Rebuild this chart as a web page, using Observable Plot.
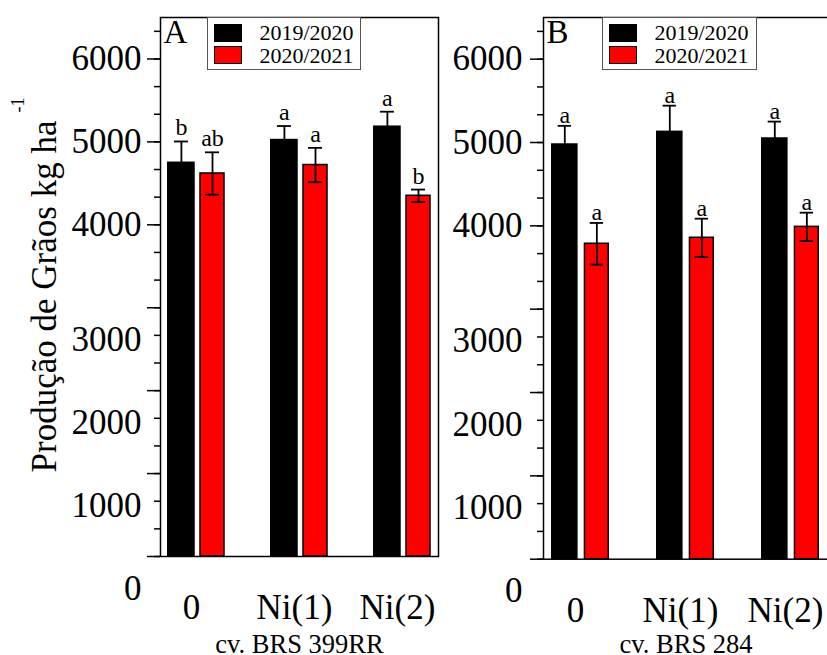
<!DOCTYPE html>
<html><head><meta charset="utf-8">
<script src="https://cdn.jsdelivr.net/npm/d3@7"></script>
<script src="https://cdn.jsdelivr.net/npm/@observablehq/plot@0.6"></script>
<style>
body{margin:0;background:#fff;}
#wrap{position:relative;width:827px;height:655px;overflow:hidden;font-family:"Liberation Serif","Times New Roman",serif;background:#fff;}
.panel{position:absolute;top:0;}
.legend{position:absolute;border:1px solid #555;background:#fff;box-sizing:border-box;padding-top:4px;}
.legend .row{display:flex;align-items:center;height:22.5px;}
.legend .sw{width:26px;height:16px;border:1px solid #000;margin-left:6px;flex:none;}
.legend .lab{margin-left:18px;font-size:22px;line-height:19px;color:#000;white-space:nowrap;}
#ytitle{position:absolute;left:0;top:0;pointer-events:none;}
</style></head>
<body>
<div id="wrap"></div>
<script>
// ---- data ----
const groups = ["0", "Ni(1)", "Ni(2)"];
const seasons = ["2019/2020", "2020/2021"];
const seasonColors = ["#000000", "#ff0000"];

const a2019 = [4748, 5022, 5183];
const a2019Err = [257, 169, 181];
const a2019Letters = ["b", "a", "a"];
const a2020 = [4619, 4721, 4350];
const a2020Err = [255, 207, 75];
const a2020Letters = ["ab", "a", "b"];

const b2019 = [4976, 5128, 5048];
const b2019Err = [224, 314, 203];
const b2019Letters = ["a", "a", "a"];
const b2020 = [3785, 3857, 3988];
const b2020Err = [250, 229, 170];
const b2020Letters = ["a", "a", "a"];

const upperTickLabels = [6000, 5000, 4000];
const lowerTickLabels = [3000, 2000, 1000, 0];
const majorTicks = [0, 1000, 2000, 3000, 4000, 5000, 6000];
const minorStep = 1000 / 3;

const yTitle = "Produção de Grãos kg ha";
const yTitleSup = "-1";

const wrap = document.getElementById("wrap");
const minorTicks = d3.range(0, 6400, minorStep);
const serif = "Liberation Serif, Times New Roman, serif";

function rowsOf(vals, errs, letters) {
  return groups.map((g, i) => ({group: g, value: vals[i], err: errs[i], letter: letters[i]}));
}

function panel(o) {
  const r19 = rowsOf(o.v19, o.e19, o.l19);
  const r20 = rowsOf(o.v20, o.e20, o.l20);
  const chart = Plot.plot({
    width: o.width, height: 655,
    marginLeft: o.ml, marginRight: o.mr, marginTop: 17, marginBottom: o.mb,
    style: {fontFamily: serif, color: "#000", background: "transparent", overflow: "visible"},
    x: {type: "band", domain: groups, paddingInner: o.pi, paddingOuter: o.po, axis: null},
    y: {domain: [0, 6500]},
    marks: [
      Plot.barY(r19, {x: "group", y: "value", fill: seasonColors[0], stroke: "#000", strokeWidth: 1.5, insetLeft: o.bInL, insetRight: o.bInR}),
      Plot.barY(r20, {x: "group", y: "value", fill: seasonColors[1], stroke: "#000", strokeWidth: 1.5, insetLeft: o.rInL, insetRight: o.rInR}),
      Plot.ruleX(r19, {x: "group", y1: d => d.value - d.err, y2: d => d.value + d.err, dx: o.bDx, stroke: "#000", strokeWidth: 1.8}),
      Plot.ruleX(r20, {x: "group", y1: d => d.value - d.err, y2: d => d.value + d.err, dx: o.rDx, stroke: "#000", strokeWidth: 1.8}),
      Plot.tickY(r19, {x: "group", y: d => d.value + d.err, insetLeft: o.bCapL, insetRight: o.bCapR, stroke: "#000", strokeWidth: 1.8}),
      Plot.tickY(r19, {x: "group", y: d => d.value - d.err, insetLeft: o.bCapL, insetRight: o.bCapR, stroke: "#000", strokeWidth: 1.8}),
      Plot.tickY(r20, {x: "group", y: d => d.value + d.err, insetLeft: o.rCapL, insetRight: o.rCapR, stroke: "#000", strokeWidth: 1.8}),
      Plot.tickY(r20, {x: "group", y: d => d.value - d.err, insetLeft: o.rCapL, insetRight: o.rCapR, stroke: "#000", strokeWidth: 1.8}),
      Plot.text(r19, {x: "group", y: d => d.value + d.err, text: "letter", dx: o.bDx, dy: o.letterDy, lineAnchor: "bottom", fontSize: 24, fill: "#000"}),
      Plot.text(r20, {x: "group", y: d => d.value + d.err, text: "letter", dx: o.rDx, dy: o.letterDy, lineAnchor: "bottom", fontSize: 24, fill: "#000"}),
      Plot.axisY({ticks: minorTicks, tickSize: 6, fill: "none", label: null, strokeWidth: 1.5}),
      Plot.axisY({ticks: majorTicks, tickSize: 13, fill: "none", label: null, strokeWidth: 1.5}),
      Plot.text(upperTickLabels, {y: d => d, text: d => String(d), frameAnchor: "left", textAnchor: "end", dx: -o.labPad, fontSize: 35, fill: "#000"}),
      Plot.text(lowerTickLabels, {y: d => d, text: d => String(d), frameAnchor: "left", textAnchor: "end", dx: -o.labPad, dy: 32, fontSize: 35, fill: "#000"}),
      Plot.text(groups, {x: d => d, text: d => d, frameAnchor: "bottom", lineAnchor: "top", dy: o.xLabDy, dx: -5, fontSize: 35, fill: "#000"}),
      Plot.text([o.subtitle], {text: d => d, frameAnchor: "bottom", lineAnchor: "top", dy: o.subDy, fontSize: 26.5, fill: "#000"}),
      Plot.text([o.letter], {text: d => d, frameAnchor: "top-left", textAnchor: "start", lineAnchor: "top", dx: 3, dy: 1.6, fontSize: 33, fill: "#000"}),
      Plot.frame({stroke: "#000", strokeWidth: 1.5})
    ]
  });
  chart.classList.add("panel");
  chart.style.left = o.left + "px";
  wrap.appendChild(chart);

  const lg = document.createElement("div");
  lg.className = "legend";
  lg.style.left = o.legLeft + "px";
  lg.style.top = "16.5px";
  lg.style.width = o.legWidth + "px";
  lg.style.height = "53.5px";
  seasons.forEach((s, i) => {
    const row = document.createElement("div");
    row.className = "row";
    const sw = document.createElement("div");
    sw.className = "sw";
    sw.style.background = seasonColors[i];
    const lab = document.createElement("span");
    lab.className = "lab";
    lab.textContent = s;
    row.appendChild(sw); row.appendChild(lab);
    lg.appendChild(row);
  });
  wrap.appendChild(lg);
}

panel({
  left: 0, width: 440, ml: 160, mr: 2, mb: 99,
  pi: 0.4383, po: 0.0654,
  bInL: 0.75, bInR: 31, rInL: 33, rInR: 1,
  bDx: -15.1, rDx: 16,
  bCapL: 6.9, bCapR: 37.1, rCapL: 38, rCapR: 6,
  letterDy: -6, labPad: 19, xLabDy: 37.6, subDy: 78,
  v19: a2019, e19: a2019Err, l19: a2019Letters,
  v20: a2020, e20: a2020Err, l20: a2020Letters,
  subtitle: "cv. BRS 399RR", letter: "A",
  legLeft: 206.5, legWidth: 154.5
});

panel({
  left: 440, width: 440, ml: 103, mr: 52, mb: 96.3,
  pi: 0.4462, po: 0.0675,
  bInL: 0.75, bInR: 32.15, rInL: 33.45, rInR: 0.75,
  bDx: -15.7, rDx: 16.35,
  bCapL: 6.65, bCapR: 38.05, rCapL: 38.7, rCapR: 6,
  letterDy: -2.5, labPad: 21, xLabDy: 38, subDy: 75.3,
  v19: b2019, e19: b2019Err, l19: b2019Letters,
  v20: b2020, e20: b2020Err, l20: b2020Letters,
  subtitle: "cv. BRS 284", letter: "B",
  legLeft: 601.5, legWidth: 155
});

// y-axis title (shared, left side)
const ov = d3.select(wrap).append("svg").attr("id", "ytitle").attr("width", 827).attr("height", 655);
ov.append("text")
  .attr("transform", "translate(56,296.5) rotate(-90)")
  .attr("text-anchor", "middle")
  .style("font-family", serif)
  .attr("font-size", 35)
  .attr("fill", "#000")
  .text(yTitle);
ov.append("text")
  .attr("transform", "translate(24,105) rotate(-90)")
  .attr("text-anchor", "middle")
  .style("font-family", serif)
  .attr("font-size", 18)
  .attr("fill", "#000")
  .text(yTitleSup);
</script>
</body></html>
